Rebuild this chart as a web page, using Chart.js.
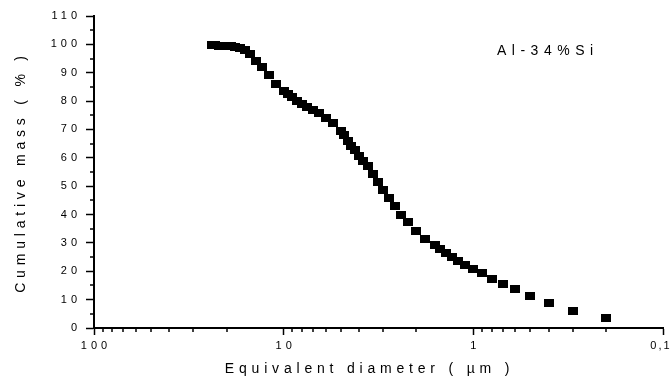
<!DOCTYPE html>
<html>
<head>
<meta charset="utf-8">
<script src="https://cdn.jsdelivr.net/npm/chart.js@4/dist/chart.umd.min.js"></script>
<style>
  html, body { margin: 0; padding: 0; background: #ffffff; }
  #wrap { width: 670px; height: 378px; }
</style>
</head>
<body>
<div id="wrap"><canvas id="sizeChart" width="670" height="378"></canvas></div>
<script>
// equivalent diameter (µm), coarse to fine
const diameters = [24, 23, 22, 21, 20, 19, 18, 17, 16, 15, 14, 13, 12, 11, 10,
    9.5, 9, 8.5, 8, 7.5, 7, 6.5, 6, 5.5, 5,
    4.8, 4.6, 4.4, 4.2, 4, 3.8, 3.6, 3.4, 3.2, 3, 2.8, 2.6, 2.4, 2.2, 2,
    1.8, 1.6, 1.5, 1.4, 1.3, 1.2, 1.1, 1,
    0.9, 0.8, 0.7, 0.6, 0.5, 0.4, 0.3, 0.2];
// cumulative mass (%)
const cumulativeMass = [99.6, 99.6, 99.5, 99.5, 99.4, 99.3, 99.1, 98.7, 98.0, 96.7, 94.1, 92.0, 89.1, 86.2, 83.5,
    82.4, 81.3, 80.1, 79.0, 78.0, 76.9, 75.7, 74.2, 72.3, 69.5,
    68.0, 65.8, 64.2, 62.7, 60.6, 58.9, 57.0, 54.3, 51.4, 48.7, 46.0, 43.1, 40.0, 37.2, 34.1,
    31.5, 29.2, 28.0, 26.6, 25.0, 23.6, 22.3, 20.8,
    19.4, 17.2, 15.4, 13.7, 11.2, 8.7, 5.9, 3.5];

const xTickValues = [100, 10, 1, 0.1];
const xTickLabels = ['100', '10', '1', '0,1'];
const yTickValues = [0, 10, 20, 30, 40, 50, 60, 70, 80, 90, 100, 110];

const sampleLabel = 'Al-34%Si';
const xTitle = 'Equivalent diameter ( µm )';
const yTitle = 'Cumulative mass ( % )';

const ink = '#000000';
const fontFamily = '"Liberation Sans", Arial, sans-serif';

// square marker, a bit wider than tall like the scanned one
const marker = document.createElement('canvas');
marker.width = 10;
marker.height = 8;
const markerCtx = marker.getContext('2d');
markerCtx.fillStyle = '#000000';
markerCtx.fillRect(0, 0, 10, 8);

const points = diameters.map((d, i) => ({ x: d, y: cumulativeMass[i] }));

//---------------------------------spacing for tick labels---------------------------------//
const tickSpacing = {
    id: 'tickSpacing',
    beforeLayout(chart) { chart.ctx.letterSpacing = '4px'; },
    beforeDraw(chart) { chart.ctx.letterSpacing = '4px'; }
};

//---------------------------------minor ticks, x labels, titles, sample label-------------//
const decorations = {
    id: 'decorations',
    afterDraw(chart) {
        const ctx = chart.ctx;
        const xScale = chart.scales.x;
        const yScale = chart.scales.y;
        ctx.save();
        ctx.strokeStyle = ink;
        ctx.lineWidth = 1.5;
        ctx.beginPath();
        [0.1, 1, 10].forEach((decade) => {
            for (let k = 2; k <= 9; k++) {
                const px = Math.round(xScale.getPixelForValue(k * decade));
                ctx.moveTo(px, yScale.bottom);
                ctx.lineTo(px, yScale.bottom + 4);
            }
        });
        for (let v = 5; v < 110; v += 10) {
            const py = Math.round(yScale.getPixelForValue(v));
            ctx.moveTo(xScale.left, py);
            ctx.lineTo(xScale.left - 4, py);
        }
        ctx.stroke();

        ctx.fillStyle = ink;
        ctx.textAlign = 'center';
        ctx.textBaseline = 'middle';

        // x tick labels, the comma one is set tighter so it stays on the page
        ctx.font = '11px ' + fontFamily;
        xTickValues.forEach((v, i) => {
            const label = xTickLabels[i];
            const spacing = label.includes(',') ? 2 : 4;
            ctx.letterSpacing = spacing + 'px';
            ctx.fillText(label, xScale.getPixelForValue(v) + spacing / 2 - (label.includes(',') ? 3 : 0), yScale.bottom + 18);
        });

        ctx.letterSpacing = '4.8px';
        ctx.font = '14px ' + fontFamily;
        ctx.fillText(xTitle, (xScale.left + xScale.right) / 2 - 9, 369);

        ctx.save();
        ctx.translate(21, (yScale.top + yScale.bottom) / 2);
        ctx.rotate(-Math.PI / 2);
        ctx.fillText(yTitle, 0, 0);
        ctx.restore();

        ctx.textAlign = 'left';
        ctx.letterSpacing = '5.5px';
        ctx.font = '14px ' + fontFamily;
        ctx.fillText(sampleLabel, 497, 51);
        ctx.restore();
    }
};

new Chart(document.getElementById('sizeChart').getContext('2d'), {
    type: 'scatter',
    data: {
        datasets: [{
            data: points,
            pointStyle: marker,
            pointRadius: 5,
            backgroundColor: '#000000',
            borderColor: '#000000',
            showLine: false
        }]
    },
    options: {
        responsive: false,
        animation: false,
        devicePixelRatio: 1,
        layout: { padding: { left: 0, top: 16, right: 7, bottom: 0 } },
        plugins: {
            legend: { display: false },
            tooltip: { enabled: false }
        },
        scales: {
            x: {
                type: 'logarithmic',
                reverse: true,
                min: 0.1,
                max: 100,
                afterBuildTicks: (scale) => {
                    scale.ticks = xTickValues.map((v) => ({ value: v, major: true }));
                },
                afterFit: (scale) => {
                    scale.height = 50;
                    scale.paddingLeft = 0;
                    scale.paddingRight = 7;
                },
                ticks: { display: false },
                grid: {
                    drawOnChartArea: false,
                    drawTicks: true,
                    tickLength: 7,
                    tickWidth: 1.5,
                    tickColor: ink
                },
                border: { display: true, color: ink, width: 2 }
            },
            y: {
                min: 0,
                max: 110,
                afterBuildTicks: (scale) => {
                    scale.ticks = yTickValues.map((v) => ({ value: v }));
                },
                afterFit: (scale) => {
                    scale.width = 94;
                    scale.paddingTop = 0;
                    scale.paddingBottom = 0;
                },
                ticks: {
                    padding: 5,
                    color: ink,
                    font: { size: 11, family: fontFamily }
                },
                grid: {
                    drawOnChartArea: false,
                    drawTicks: true,
                    tickLength: 8,
                    tickWidth: 1.5,
                    tickColor: ink
                },
                border: { display: true, color: ink, width: 2 }
            }
        }
    },
    plugins: [tickSpacing, decorations]
});
</script>
</body>
</html>
